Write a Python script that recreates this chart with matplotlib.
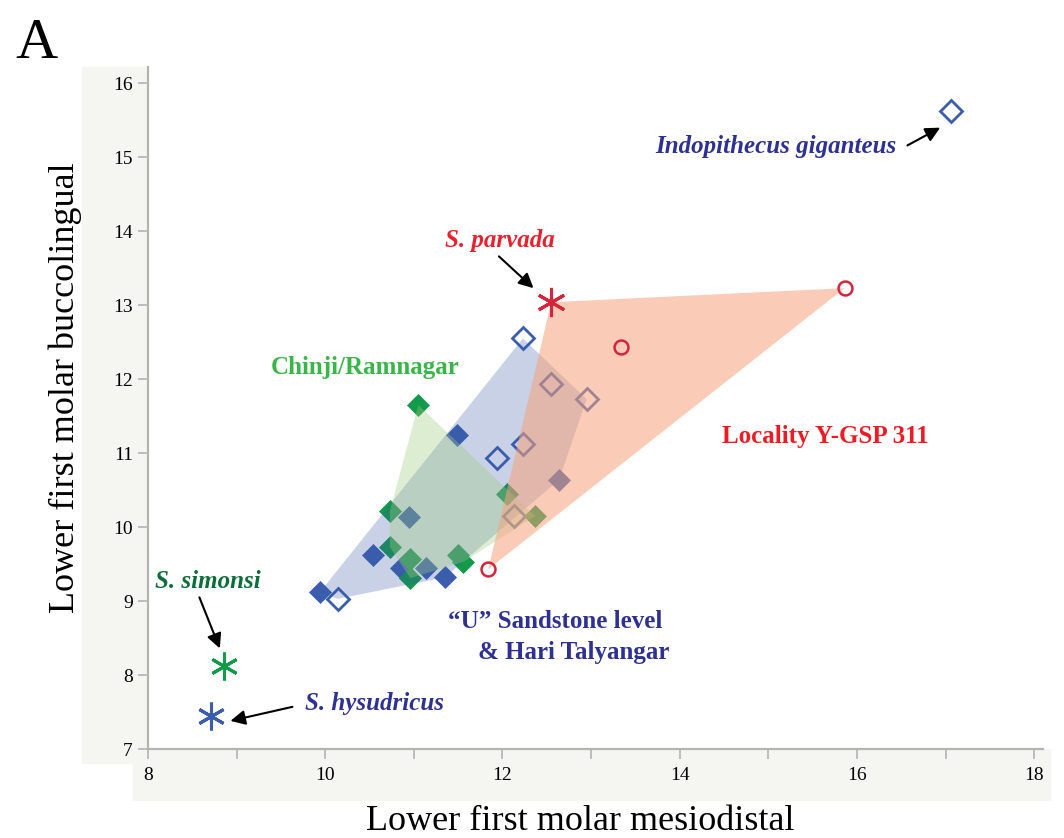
import numpy as np
import matplotlib
matplotlib.use("Agg")
import matplotlib.pyplot as plt
from matplotlib.patches import Rectangle, Polygon
from matplotlib.ticker import MultipleLocator

plt.rcParams['font.family'] = ['Liberation Serif', 'DejaVu Serif']

# "U" Sandstone level & Hari Talyangar (blue diamonds)
blue_open_x = [12.23, 12.55, 12.95, 11.94, 12.23, 12.13, 10.14]
blue_open_y = [12.55, 11.93, 11.73, 10.93, 11.12, 10.15, 9.03]
blue_fill_x = [11.49, 12.64, 10.95, 10.54, 10.86, 11.14, 11.35, 9.94]
blue_fill_y = [11.24, 10.64, 10.14, 9.62, 9.45, 9.45, 9.32, 9.12]

# Chinji/Ramnagar (green diamonds)
green_x = [11.05, 12.05, 10.73, 10.73, 12.37, 10.96, 10.96, 11.50, 11.56]
green_y = [11.65, 10.45, 10.22, 9.73, 10.15, 9.57, 9.31, 9.62, 9.53]

# Locality Y-GSP 311 (red circles)
red_x = [15.86, 13.34, 11.84]
red_y = [13.23, 12.43, 9.43]

# single specimens
parvada = (12.55, 13.04)
simonsi = (8.86, 8.12)
hysudricus = (8.71, 7.45)
indopithecus = (17.06, 15.62)

BLUE = '#3a5ead'
GREEN = '#12994a'
RED = '#d4253b'
NAVY = '#2e3192'


def hull(xs, ys):
    pts = sorted(set(zip(xs, ys)))

    def cross(o, a, b):
        return (a[0] - o[0]) * (b[1] - o[1]) - (a[1] - o[1]) * (b[0] - o[0])
    lower = []
    for p in pts:
        while len(lower) >= 2 and cross(lower[-2], lower[-1], p) <= 0:
            lower.pop()
        lower.append(p)
    upper = []
    for p in reversed(pts):
        while len(upper) >= 2 and cross(upper[-2], upper[-1], p) <= 0:
            upper.pop()
        upper.append(p)
    return lower[:-1] + upper[:-1]


fig = plt.figure(figsize=(10.64, 8.38), dpi=100)
ax = fig.add_axes([148 / 1064, 89 / 838, (1043 - 148) / 1064, (749 - 67) / 838])

# light grey bands behind tick labels
fig.add_artist(Rectangle((82 / 1064, 75 / 838), 66 / 1064, 696 / 838,
                         transform=fig.transFigure, color='#f5f6f1', zorder=-1))
fig.add_artist(Rectangle((133 / 1064, 38 / 838), 917 / 1064, 51 / 838,
                         transform=fig.transFigure, color='#f5f6f1', zorder=-1))

# points under the polygons
ax.plot(blue_open_x, blue_open_y, 'D', ms=11.5, mfc='none', mec=BLUE, mew=2.0, zorder=1)
ax.plot(blue_fill_x, blue_fill_y, 'D', ms=11.5, mfc=BLUE, mec=BLUE, mew=0.5, zorder=1)
ax.plot(green_x, green_y, 'D', ms=11.5, mfc=GREEN, mec=GREEN, mew=0.5, zorder=1.1)

# group polygons
ax.add_patch(Polygon(hull(blue_open_x + blue_fill_x, blue_open_y + blue_fill_y),
                     closed=True, fc='#3b5ba8', ec='none', alpha=0.28, zorder=2))
ax.add_patch(Polygon(hull(green_x, green_y), closed=True, fc='#9fcc80',
                     ec='none', alpha=0.35, zorder=2.1))
ax.add_patch(Polygon(hull(red_x + [parvada[0]], red_y + [parvada[1]]), closed=True,
                     fc='#f7a27d', ec='none', alpha=0.55, zorder=2.2))

ax.plot(red_x, red_y, 'o', ms=10, mfc='none', mec=RED, mew=1.8, zorder=3)
ax.plot(*indopithecus, 'D', ms=11.5, mfc='none', mec=BLUE, mew=2.0, zorder=3)
ax.plot(*parvada, marker=(6, 2, 0), ms=21, mec=RED, mew=2.2, ls='none', zorder=3)
ax.plot(*simonsi, marker=(6, 2, 0), ms=20, mec=GREEN, mew=2.2, ls='none', zorder=3)
ax.plot(*hysudricus, marker=(6, 2, 0), ms=20, mec=BLUE, mew=2.2, ls='none', zorder=3)

# labels
lab = dict(fontsize=18, fontweight='bold', ha='center', va='center')
ax.text(15.08, 15.15, 'Indopithecus giganteus', color=NAVY, style='italic', **lab)
ax.text(11.97, 13.88, 'S. parvada', color='#e8212f', style='italic', **lab)
ax.text(10.45, 12.16, 'Chinji/Ramnagar', color='#3ab54a', **lab)
ax.text(15.64, 11.22, 'Locality Y-GSP 311', color='#ed1c24', **lab)
ax.text(12.60, 8.73, '\u201cU\u201d Sandstone level', color=NAVY, **lab)
ax.text(12.80, 8.31, '& Hari Talyangar', color=NAVY, **lab)
ax.text(8.68, 9.26, 'S. simonsi', color='#0b6e3a', style='italic', **lab)
ax.text(10.56, 7.61, 'S. hysudricus', color=NAVY, style='italic', **lab)

arrow = dict(arrowstyle='-|>', color='black', lw=1.5, mutation_scale=22,
             shrinkA=0, shrinkB=0)
ax.annotate('', xy=(16.94, 15.40), xytext=(16.57, 15.16), arrowprops=arrow)
ax.annotate('', xy=(12.35, 13.23), xytext=(11.96, 13.66), arrowprops=arrow)
ax.annotate('', xy=(8.81, 8.36), xytext=(8.58, 9.05), arrowprops=arrow)
ax.annotate('', xy=(8.93, 7.38), xytext=(9.63, 7.57), arrowprops=arrow)

ax.set_xlim(8, 18.1)
ax.set_ylim(7, 16.22)
ax.xaxis.set_major_locator(MultipleLocator(2))
ax.xaxis.set_minor_locator(MultipleLocator(1))
ax.yaxis.set_major_locator(MultipleLocator(1))
for s in ['top', 'right']:
    ax.spines[s].set_visible(False)
for s in ['left', 'bottom']:
    ax.spines[s].set_color('#b3b3b3')
    ax.spines[s].set_linewidth(1.6)
ax.tick_params(which='both', color='#b3b3b3', width=1.2, length=7, labelsize=14)
ax.tick_params(axis='x', pad=6)
ax.tick_params(axis='y', pad=4)

fig.text(580 / 1064, 8 / 838, 'Lower first molar mesiodistal', fontsize=26,
         ha='center', va='baseline')
fig.text(65 / 1064, 1 - 388 / 838, 'Lower first molar buccolingual', fontsize=26,
         rotation=90, ha='center', va='center')
fig.text(15 / 1064, 1 - 58 / 838, 'A', fontsize=42)

fig.savefig('out.png', dpi=100)
